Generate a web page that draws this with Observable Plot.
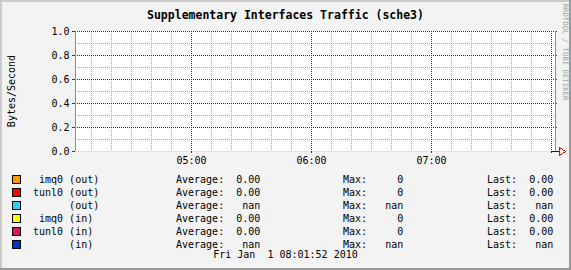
<!DOCTYPE html>
<html><head><meta charset="utf-8">
<script src="https://cdn.jsdelivr.net/npm/d3@7"></script>
<script src="https://cdn.jsdelivr.net/npm/@observablehq/plot@0.6"></script>
<style>
html,body{margin:0;padding:0;background:#f3f3f3;}
#wrap{position:relative;width:571px;height:270px;overflow:hidden;background:#f3f3f3;font-family:"DejaVu Sans Mono",monospace;font-size:10px;color:#000;}
#wrap .t{position:absolute;white-space:pre;line-height:12px;}
#canvas{position:absolute;left:75px;top:31px;width:480px;height:120px;background:#fff;}
#wrap svg{position:absolute;left:0;top:0;}
.box{position:absolute;width:9px;height:9px;box-sizing:border-box;border:1px solid #000;}
.bd{position:absolute;}
</style></head>
<body>
<div id="wrap">
  <div id="canvas"></div>
</div>
<script>
// ---- data ----
const title = "Supplementary Interfaces Traffic (sche3)";
const yTitle = "Bytes/Second";
const credit = "RRDTOOL / TOBI OETIKER";
const dateLine = "Fri Jan  1 08:01:52 2010";
const sampleTimes = ["04:02","04:30","05:00","05:30","06:00","06:30","07:00","07:30","08:00"];
const names  = ["imq0","tunl0","","imq0","tunl0",""];
const dirs   = ["out","out","out","in","in","in"];
const colors = ["#ff9900","#ff0000","#33ccff","#ffff00","#dd1166","#0033cc"];
const seriesValues = [
  [0,0,0,0,0,0,0,0,0],
  [0,0,0,0,0,0,0,0,0],
  [null,null,null,null,null,null,null,null,null],
  [0,0,0,0,0,0,0,0,0],
  [0,0,0,0,0,0,0,0,0],
  [null,null,null,null,null,null,null,null,null]
];
const avgVals  = [0,0,null,0,0,null];
const maxVals  = [0,0,null,0,0,null];
const lastVals = [0,0,null,0,0,null];
const xTickLabels = ["05:00","06:00","07:00"];
const xMajorGrid = ["05:00","06:00","07:00","08:00"];
const yTickLabels = [0,0.2,0.4,0.6,0.8,1.0];
const yMinorTicks = [0.1,0.3,0.5,0.7,0.9];
const drawOrder = [0,1,2,5,4,3];

// ---- build ----
const day = "2010-01-01T";
const toDate = s => new Date(day + s + ":00Z");
const start = toDate("04:02"), end = toDate("08:02");
const xTicks = xTickLabels.map(toDate);
const xMajor = xMajorGrid.map(toDate);
const xMinor = d3.utcMinute.every(10).range(start, end).filter(d => d.getUTCMinutes() !== 0);
const rows = [];
drawOrder.forEach(i => sampleTimes.forEach((t, j) => rows.push({t: toDate(t), v: seriesValues[i][j], s: i})));
const minGrid = "#a8a8a8", majGrid = "#801818";
const off = m => new Date(+start + m * 60000), offE = m => new Date(+end + m * 60000);

const lineMarks = drawOrder.map(i => Plot.line(rows.filter(r => r.s === i), {x: "t", y: "v", stroke: colors[i], strokeWidth: 1, shapeRendering: "crispEdges"}));

const chart = Plot.plot({
  width: 571, height: 270,
  marginLeft: 75, marginRight: 16, marginTop: 31, marginBottom: 119,
  style: {background: "transparent", fontFamily: "DejaVu Sans Mono", fontSize: "10px", color: "#000"},
  x: {type: "utc", domain: [start, end], ticks: xTicks, tickFormat: d3.utcFormat("%H:%M"), tickSize: 0, tickPadding: 5, label: null},
  y: {domain: [0, 1], ticks: yTickLabels, tickFormat: d3.format(".1f"), tickSize: 0, tickPadding: 6, label: null},
  marks: [
    Plot.ruleX(xMinor, {stroke: minGrid, strokeDasharray: "1,1", shapeRendering: "crispEdges"}),
    Plot.ruleY(yMinorTicks, {stroke: minGrid, strokeDasharray: "1,1", shapeRendering: "crispEdges"}),
    Plot.ruleX(xMajor, {stroke: majGrid, strokeDasharray: "1,1", shapeRendering: "crispEdges"}),
    Plot.ruleY(yTickLabels.filter(v => v !== 0), {stroke: majGrid, strokeDasharray: "1,1", shapeRendering: "crispEdges"}),
    ...lineMarks,
    Plot.ruleX(xMajor, {y1: () => 0, y2: () => -0.017, stroke: majGrid, shapeRendering: "crispEdges"}),
    Plot.ruleY(yTickLabels, {x1: () => off(-1.5), x2: () => start, stroke: majGrid, shapeRendering: "crispEdges"}),
    Plot.ruleY(yTickLabels, {x1: () => end, x2: () => offE(1), stroke: majGrid, shapeRendering: "crispEdges"}),
    Plot.ruleX([start], {stroke: "#8c8c8c", shapeRendering: "crispEdges"}),
    Plot.ruleX([end], {stroke: "#8c8c8c", shapeRendering: "crispEdges"}),
    Plot.ruleY([0], {x1: () => offE(-2), x2: () => offE(2.5), stroke: "#202020", shapeRendering: "crispEdges"})
  ]
});
const wrap = document.getElementById("wrap");
wrap.appendChild(chart);

function addText(txt, x, y, extra) {
  const s = document.createElement("div");
  s.className = "t";
  s.textContent = txt;
  s.style.left = x + "px";
  s.style.top = (y - 6) + "px";
  if (extra) Object.assign(s.style, extra);
  wrap.appendChild(s);
  return s;
}
// title
addText(title, 0, 15, {width: "571px", textAlign: "center", fontWeight: "bold", fontSize: "11.5px"});
// y title
addText(yTitle, -30, 91, {width: "84px", textAlign: "center", transform: "rotate(-90deg)", left: "-30px"});
// credit
addText(credit, 565 - 50, 52, {width: "100px", textAlign: "center", transform: "rotate(90deg)", fontSize: "7.3px", color: "#a0a0a0"});

// arrow
const ns = "http://www.w3.org/2000/svg";
const arr = document.createElementNS(ns, "svg");
arr.setAttribute("width", 10); arr.setAttribute("height", 10);
arr.style.cssText = "position:absolute;left:557px;top:146px;";
const poly = document.createElementNS(ns, "polygon");
poly.setAttribute("points", "2.5,1.5 8.5,5.5 2.5,9.5 2.5,1.5");
poly.setAttribute("fill", "none"); poly.setAttribute("stroke", "#ff0000");
poly.setAttribute("shape-rendering", "crispEdges");
arr.appendChild(poly);
wrap.appendChild(arr);

// legend
const fmt2 = v => v == null ? "nan" : v.toFixed(2);
const fmt0 = v => v == null ? "nan" : d3.format(".0f")(v);
names.forEach((n, i) => {
  const top = 175 + i * 13;
  const b = document.createElement("div");
  b.className = "box"; b.style.left = "12px"; b.style.top = top + "px"; b.style.background = colors[i];
  wrap.appendChild(b);
  const cy = top + 4.5;
  addText(n.padStart(5) + " (" + dirs[i] + ")", 33, cy);
  addText("Average:" + fmt2(avgVals[i]).padStart(6), 176, cy);
  addText("Max:" + fmt0(maxVals[i]).padStart(6), 343, cy);
  addText("Last:" + fmt2(lastVals[i]).padStart(6), 487, cy);
});
addText(dateLine, 0, 255, {width: "571px", textAlign: "center"});

// border
[["left:0;top:0;width:571px;height:2px;background:#cbcbcb"],
 ["left:0;top:0;width:2px;height:270px;background:#cbcbcb"],
 ["left:0;top:268px;width:571px;height:2px;background:#999"],
 ["left:569px;top:0;width:2px;height:270px;background:#999"]].forEach(([css]) => {
  const d = document.createElement("div"); d.className = "bd"; d.style.cssText = css; wrap.appendChild(d);
});
</script>
</body></html>
